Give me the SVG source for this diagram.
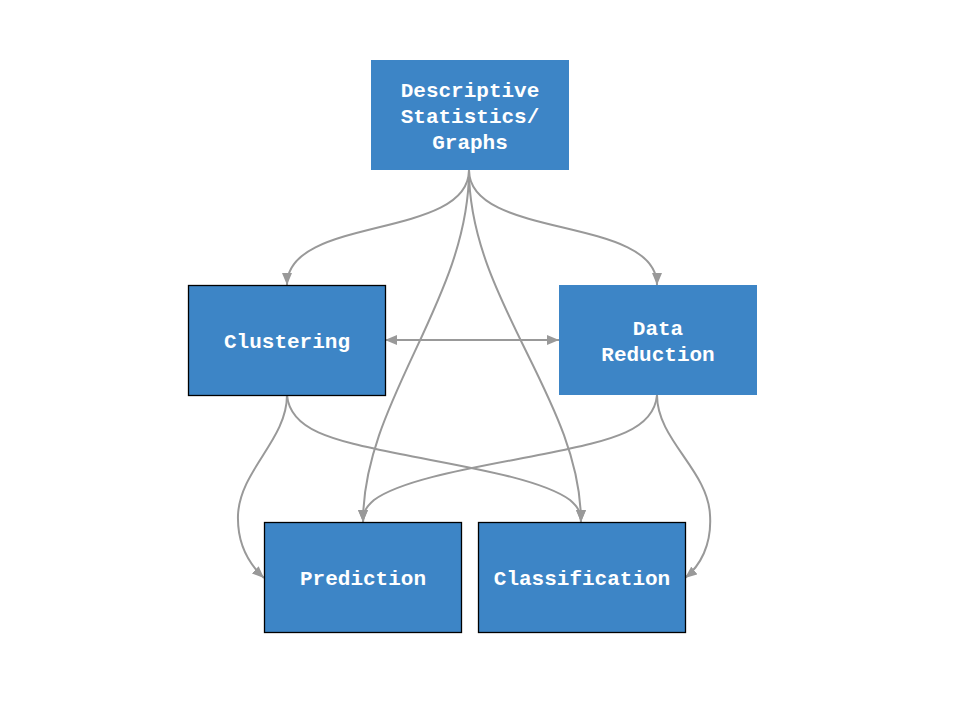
<svg xmlns="http://www.w3.org/2000/svg" width="960" height="720" viewBox="0 0 960 720">
<defs>
<style>
.box{fill:#3d85c6}
.bd{stroke:#000;stroke-width:1.3}
.lbl{font-family:"Liberation Mono","Courier New",monospace;font-weight:bold;font-size:21px;fill:#fff;text-anchor:middle}
.edge{fill:none;stroke:#999999;stroke-width:2;marker-end:url(#ah)}
</style>
<marker id="ah" viewBox="0 0 12 10" refX="12" refY="5" markerWidth="12" markerHeight="10" markerUnits="userSpaceOnUse" orient="auto-start-reverse">
<path d="M0,0 L12,5 L0,10 z" fill="#999999"/>
</marker>
</defs>
<rect width="960" height="720" fill="#fff"/>
<g id="connectors">
<path class="edge" d="M469,170 C469,240 287,215 287,285"/>
<path class="edge" d="M469,170 C469,240 657,215 657,285"/>
<path class="edge" d="M469,170 C469,300 363,400 363,522"/>
<path class="edge" d="M469,170 C469,300 581,400 581,522"/>
<path class="edge" style="marker-start:url(#ah)" d="M385,340 L559,340"/>
<path class="edge" d="M287,395 C287,440 240,470 238,515 C237,545 250,565 264,578"/>
<path class="edge" d="M287,395 C290,430 330,440 400,454 C460,466 540,478 570,500 C578,507 581,512 581,522"/>
<path class="edge" d="M657,395 C654,430 614,440 544,454 C484,466 404,478 374,500 C366,507 363,512 363,522"/>
<path class="edge" d="M657,395 C657,440 708,470 710,515 C712,545 700,566 685,578"/>
</g>
<g id="node-descriptive">
<rect class="box" x="371" y="60" width="198" height="110"/>
<text class="lbl" x="470" y="97">Descriptive</text>
<text class="lbl" x="470" y="123">Statistics/</text>
<text class="lbl" x="470" y="149">Graphs</text>
</g>
<g id="node-clustering">
<rect class="box bd" x="188.5" y="285.5" width="197" height="110"/>
<text class="lbl" x="287" y="348">Clustering</text>
</g>
<g id="node-datareduction">
<rect class="box" x="559" y="285" width="198" height="110"/>
<text class="lbl" x="658" y="335">Data</text>
<text class="lbl" x="658" y="361">Reduction</text>
</g>
<g id="node-prediction">
<rect class="box bd" x="264.5" y="522.5" width="197" height="110"/>
<text class="lbl" x="363" y="585">Prediction</text>
</g>
<g id="node-classification">
<rect class="box bd" x="478.5" y="522.5" width="207" height="110"/>
<text class="lbl" x="582" y="585">Classification</text>
</g>
</svg>
